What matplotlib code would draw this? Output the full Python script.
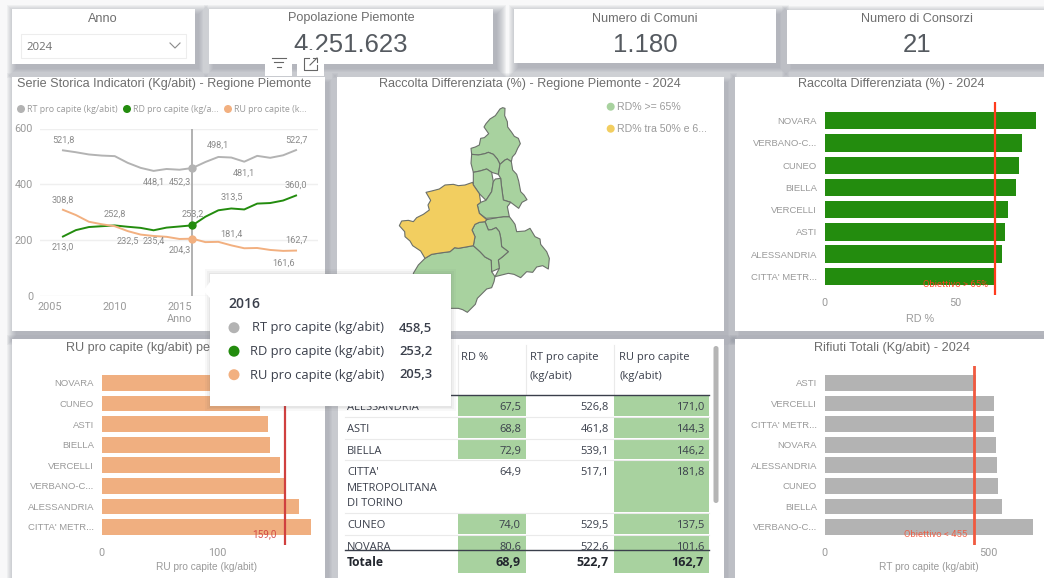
import matplotlib
matplotlib.use("Agg")
import matplotlib.pyplot as plt
from matplotlib.patches import Rectangle, Polygon, FancyBboxPatch, Circle

W, H = 1044, 578
SANS = "Liberation Sans"
UI = "Open Sans"
NUM = "Roboto"

# ---------- data ----------
years = list(range(2006, 2025))
rt = [521.8, 515, 507, 503, 501, 477, 459, 448.1, 455, 452.3, 458.5, 480, 498.1, 496, 481.1, 502, 495, 504, 522.7]
rd = [213.0, 236, 247, 250, 252.8, 248, 244, 235.4, 245, 249, 253.2, 284, 307, 313.5, 310, 331, 333, 342, 360.0]
ru = [308.8, 290, 266, 257, 250, 232.5, 220, 215, 212, 204.3, 205.3, 193, 194, 181.4, 171, 172, 165, 161.6, 162.7]

rd_cat = ["NOVARA", "VERBANO-C...", "CUNEO", "BIELLA", "VERCELLI", "ASTI", "ALESSANDRIA", "CITTA' METR..."]
rd_val = [80.6, 75.2, 74.0, 72.9, 70.1, 68.8, 67.5, 64.9]
ru_cat = ["NOVARA", "CUNEO", "ASTI", "BIELLA", "VERCELLI", "VERBANO-C...", "ALESSANDRIA", "CITTA' METR..."]
ru_val = [101.6, 137.5, 144.3, 146.2, 155.0, 160.0, 171.0, 181.8]
rt_cat = ["ASTI", "VERCELLI", "CITTA' METR...", "NOVARA", "ALESSANDRIA", "CUNEO", "BIELLA", "VERBANO-C..."]
rt_val = [461.8, 516.0, 517.1, 522.6, 526.8, 529.5, 539.1, 636.0]

tab_names = ["ALESSANDRIA", "ASTI", "BIELLA", "CITTA'\nMETROPOLITANA\nDI TORINO", "CUNEO", "NOVARA"]
tab_rd = [67.5, 68.8, 72.9, 64.9, 74.0, 80.6]
tab_rt = [526.8, 461.8, 539.1, 517.1, 529.5, 522.6]
tab_ru = [171.0, 144.3, 146.2, 181.8, 137.5, 101.6]
tot_vals = [68.9, 522.7, 162.7]

map_vco = [(330,42),(338,38),(345,40),(344,62),(352,80),(353,96),(365,112),(373,124),(385,130),(391,146),(383,160),(376,176),(367,186),(364,200),(352,192),(345,195),(330,208),(322,192),(310,178),(295,172),(285,176),(265,180),(245,178),(243,160),(256,156),(268,150),(272,130),(283,128),(296,116),(282,96),(288,86),(300,72),(316,62)]
map_top = [(245,178),(265,180),(285,176),(295,172),(310,178),(322,192),(330,208),(325,238),(305,232),(290,222),(270,228),(250,232),(243,205)]
map_nov = [(330,208),(345,195),(352,192),(364,200),(368,225),(380,238),(386,258),(392,290),(402,300),(411,314),(396,322),(386,340),(362,322),(340,315),(334,270),(332,250),(325,238)]
map_bie = [(250,232),(270,228),(290,222),(305,232),(310,260),(305,290),(288,316),(268,296),(250,270)]
map_ver = [(316,252),(332,250),(334,270),(340,315),(362,322),(352,335),(358,365),(340,365),(320,368),(288,370),(268,355),(262,330),(272,322),(288,316),(305,290),(310,260)]
map_tor = [(248,262),(250,270),(268,296),(272,322),(262,330),(268,355),(290,374),(285,380),(268,382),(255,388),(246,405),(255,425),(250,452),(228,456),(205,460),(194,458),(180,470),(150,474),(125,478),(105,490),(92,468),(68,452),(60,438),(45,425),(44,410),(28,392),(35,378),(55,376),(70,380),(80,368),(100,358),(118,345),(114,330),(122,316),(108,292),(125,288),(148,282),(165,270),(190,268),(205,272),(225,270)]
map_ast = [(285,380),(295,405),(305,404),(318,398),(328,410),(332,428),(335,455),(355,470),(338,485),(325,495),(328,520),(305,530),(304,496),(285,486),(270,470),(250,452),(255,425),(246,405),(255,388),(268,382)]
map_ale = [(290,374),(320,368),(340,365),(358,365),(368,378),(375,388),(380,410),(405,408),(420,400),(435,425),(450,432),(452,448),(470,470),(478,490),(475,522),(458,512),(440,516),(428,532),(410,530),(392,548),(372,538),(355,535),(315,545),(328,520),(325,495),(338,485),(355,470),(335,455),(332,428),(328,410),(318,398),(305,404),(295,405),(285,380)]
map_cun = [(105,490),(125,478),(150,474),(180,470),(194,458),(205,460),(228,456),(250,452),(270,470),(285,486),(304,496),(305,530),(315,545),(312,560),(305,578),(290,582),(280,592),(262,610),(256,628),(232,652),(218,644),(205,640),(150,640),(80,600),(70,535),(85,510)]

GREEN = "#A8D29F"; YELLOW = "#F2CE60"
GREY_T = "#6E6E6E"; GREY_L = "#9A9A9A"; DARK = "#3A3F4B"
C_RT = "#B3B3B3"; C_RD = "#238C0E"; C_RU = "#F2B080"

fig = plt.figure(figsize=(W/100, H/100), dpi=100, facecolor="#F8F8F9")

def pax(x0, y0, x1, y1, z):
    a = fig.add_axes([x0/W, 1-y1/H, (x1-x0)/W, (y1-y0)/H], zorder=z)
    a.patch.set_alpha(0)
    return a

bg = pax(0, 0, W, H, 0)
bg.set_xlim(0, W); bg.set_ylim(H, 0); bg.axis("off")

panels = [(12,9,195,64),(209,9,493,64),(514,9,776,62.5),(787,10,1050,64),
          (12,77,325,331),(337,77,723.7,331),(735,77,1050,331),
          (12,339,325,582),(338,339,723.7,582),(735,339,1050,582)]
for x0, y0, x1, y1 in panels:
    for g in range(9, -1, -1):
        bg.add_patch(Rectangle((x0+4-g, y0+5-g), x1-x0+2*g, y1-y0+2*g, fc="#8A909B", ec="none", alpha=0.085, zorder=1))
for x0, y0, x1, y1 in panels:
    bg.add_patch(Rectangle((x0, y0), x1-x0, y1-y0, fc="white", ec="none", zorder=2))

def T(x, y, s, size=9.1, color=GREY_T, ha="center", fam=SANS, weight="normal", ax=None, z=5):
    (ax or bg).text(x, y+1.5, s, fontsize=size, color=color, ha=ha, va="center", family=fam, fontweight=weight, zorder=z)

# KPI row
T(103, 17, "Anno")
T(351, 17, "Popolazione Piemonte")
T(645, 17, "Numero di Comuni")
T(917, 18, "Numero di Consorzi")
T(351, 43, "4.251.623", 18.5, "#555A60")
T(645, 43, "1.180", 18.5, "#555A60")
T(917, 44, "21", 18.5, "#555A60")
bg.add_patch(Rectangle((20.5, 33.5), 165, 24, fc="white", ec="#EDEDED", lw=0.8, zorder=3))
T(26, 45.5, "2024", 8.2, GREY_T, ha="left", fam=UI)
bg.plot([170, 175, 180], [43, 48, 43], color="#8A8A8A", lw=0.8, zorder=5)

# titles
T(164.5, 83, "Serie Storica Indicatori (Kg/abit) - Regione Piemonte")
T(530, 83, "Raccolta Differenziata (%) - Regione Piemonte - 2024")
T(891.5, 83, "Raccolta Differenziata (%) - 2024")
T(66, 346, "RU pro capite (kg/abit) pe", ha="left")
T(891.5, 346, "Rifiuti Totali (Kg/abit) - 2024")

# line-chart legend
for cx, tx, col, lab in [(21, 27, C_RT, "RT pro capite (kg/abit)"),
                         (127, 133, C_RD, "RD pro capite (kg/a..."),
                         (228, 234, C_RU, "RU pro capite (k...")]:
    bg.add_patch(Circle((cx, 109), 4, fc=col, ec="none", zorder=5))
    T(tx, 108, lab, 6.4, GREY_L, ha="left", fam=UI)

# ---------- line chart ----------
lx0, lx1 = 40, 318
la = pax(lx0, 128.5, lx1, 296, 2)
la.set_xlim(2005 + (lx0-50)/12.95, 2005 + (lx1-50)/12.95)
la.set_ylim(0, 600)
for s in la.spines.values():
    s.set_visible(False)
la.set_yticks([0, 200, 400, 600])
la.set_xticks([2005, 2010, 2015])
la.grid(axis="y", color="#EFEFEF", lw=1)
la.set_axisbelow(True)
la.tick_params(length=0, labelsize=7.8, labelcolor=GREY_L, pad=4)
la.tick_params(axis="y", pad=5)
for t in la.get_xticklabels() + la.get_yticklabels():
    t.set_family(NUM)
la.set_xlabel("Anno", fontsize=7.8, color=GREY_L, family=NUM, labelpad=2)
la.axvline(2016, color="#ABABAB", lw=1.3, zorder=2)
for v, c in [(rt, C_RT), (rd, C_RD), (ru, C_RU)]:
    la.plot(years, v, color=c, lw=1.4, zorder=3)
    la.plot([2016], [v[years.index(2016)]], "o", color=c, ms=5, zorder=4)

def fmt(v):
    return f"{v:.1f}".replace(".", ",")

def lab(series, yr, dy):
    v = series[years.index(yr)]
    la.annotate(fmt(v), (yr, v), xytext=(0, dy), textcoords="offset pixels", ha="center", va="center",
                fontsize=6.6, color="#8A8A8A", family=NUM, zorder=6)

for s, yr, dy in [(rt,2006,10),(rt,2013,-11),(rt,2015,-12),(rt,2018,12),(rt,2020,-11),(rt,2024,10),
                  (rd,2006,-11),(rd,2010,11),(rd,2013,-11),(rd,2016,11),(rd,2019,11),(rd,2024,10),
                  (ru,2006,10),(ru,2011,-10),(ru,2015,-11),(ru,2019,11),(ru,2023,-12),(ru,2024,10)]:
    lab(s, yr, dy)

# ---------- horizontal bars ----------
def hbars(box, pxunit, cy0, step, cats, vals, col, barh, ticks, target, tcol, tlabel, tlx, tly, tsize, lw):
    xa, ya, xb, yb = box
    a = pax(xa, ya, xb, yb, 2)
    a.set_xlim(0, (xb-xa)/pxunit)
    a.set_ylim((yb-cy0)/step, (ya-cy0)/step)
    for s in a.spines.values():
        s.set_visible(False)
    a.barh(range(len(cats)), vals, height=barh/step, color=col, zorder=2)
    a.set_yticks(range(len(cats)), cats)
    a.set_xticks(ticks)
    a.tick_params(length=0, labelsize=6.8, labelcolor=GREY_L)
    a.tick_params(axis="y", pad=5.5)
    a.tick_params(axis="x", pad=2.5)
    for t in a.get_yticklabels():
        t.set_family(SANS)
    for t in a.get_xticklabels():
        t.set_family(NUM); t.set_fontsize(7.8)
    a.axvline(target, color=tcol, lw=lw, zorder=3)
    a.text(tlx, tly, tlabel, fontsize=tsize, color=tcol, ha="right", va="center", family=NUM, zorder=4, alpha=0.9)
    return a

hbars((824.7, 102, 1044, 295), 2.62, 120.7, 22.23, rd_cat, rd_val, C_RD, 17.3, [0, 50],
      65, "#FF3B1D", "Obiettivo > 65%", 62.5, 7.35, 6.8, 1.6)
hbars((101.7, 365, 325, 545), 1.153, 383, 20.57, ru_cat, ru_val, "#F0AF80", 15.7, [0, 100],
      159, "#D0403F", "159,0", 152, 7.35, 7.2, 1.6)
hbars((824.7, 365.7, 1044, 545), 0.328, 383, 20.57, rt_cat, rt_val, C_RT, 15.7, [0, 500],
      455, "#F05A40", "Obiettivo < 455", 434, 7.35, 6.8, 2.0)
T(920, 318, "RD %", 7.8, GREY_L)
T(206.5, 565, "RU pro capite (kg/abit)", 7.3, GREY_L)
T(929, 565, "RT pro capite (kg/abit)", 7.3, GREY_L)

# ---------- map ----------
ma = pax(390, 95, 560, 330, 2)
ma.set_xlim(0, 510); ma.set_ylim(705, 0); ma.axis("off")
for poly, col in [(map_cun, GREEN), (map_ale, GREEN), (map_ast, GREEN), (map_vco, GREEN), (map_top, GREEN),
                  (map_nov, GREEN), (map_bie, GREEN), (map_ver, GREEN), (map_tor, YELLOW)]:
    ma.add_patch(Polygon(poly, closed=True, fc=col, ec="#6B706A", lw=0.8, joinstyle="round"))
bg.add_patch(Circle((610.7, 106.7), 4, fc=GREEN, ec="none", zorder=5))
bg.add_patch(Circle((610.7, 128.7), 4, fc=YELLOW, ec="none", zorder=5))
T(617, 105, "RD% >= 65%", 7.6, GREY_L, ha="left")
T(617, 127, "RD% tra 50% e 6...", 7.6, GREY_L, ha="left")

# ---------- table ----------
ta = pax(338, 339, 724, 578, 3)
ta.set_xlim(338, 724); ta.set_ylim(578, 339); ta.axis("off")
row_edges = [395.5, 417, 439, 460, 512.7, 535, 557]
col_x = [(457.7, 526), (526, 614), (614, 709)]
right_x = [521, 609, 704]
clip = Rectangle((338, 395.5), 386, 154.5, transform=ta.transData)
def clipped(artist):
    artist.set_clip_path(clip)
    artist.set_clip_on(True)
for i, name in enumerate(tab_names):
    y0, y1 = row_edges[i], row_edges[i+1]
    cells = [(tab_rd[i], tab_rd[i] >= 65), (tab_rt[i], False), (tab_ru[i], True)]
    for (x0, x1), rx, (v, green) in zip(col_x, right_x, cells):
        if green:
            clipped(ta.add_patch(Rectangle((x0, y0+0.5), x1-x0, y1-y0-1, fc=GREEN, ec="none")))
        clipped(ta.text(rx, y0 + 12.5, fmt(v), fontsize=8, color=DARK, ha="right", va="center", family=UI))
    clipped(ta.plot([345, 709], [y1, y1], color="#EAEAEA", lw=0.8)[0])
    for j, line in enumerate(name.split("\n")):
        clipped(ta.text(347, y0 + 12.5 + j*15.6, line, fontsize=8, color=DARK, ha="left", va="center", family=UI))
ta.plot([345, 709], [395.3, 395.3], color=DARK, lw=1, zorder=4)
ta.plot([345, 709], [550, 550], color=DARK, lw=1, zorder=4)
for x in [457.7, 526, 614]:
    ta.plot([x, x], [345, 395], color="#EAEAEA", lw=0.8)
T(461, 356, "RD %", 8, DARK, ha="left", fam=UI, ax=ta)
for x, l in [(530, "RT pro capite"), (619, "RU pro capite")]:
    T(x, 356, l, 8, DARK, ha="left", fam=UI, ax=ta)
    T(x, 375, "(kg/abit)", 8, DARK, ha="left", fam=UI, ax=ta)
ta.add_patch(Rectangle((457.7, 550.5), 68.3, 22.5, fc=GREEN, ec="none"))
ta.add_patch(Rectangle((614, 550.5), 95, 22.5, fc=GREEN, ec="none"))
T(347, 561, "Totale", 8.7, "#22262E", ha="left", fam=UI, weight="bold", ax=ta)
for rx, v in zip(right_x, tot_vals):
    T(rx, 561, fmt(v), 9, "#22262E", ha="right", fam=UI, weight="bold", ax=ta)
ta.add_patch(FancyBboxPatch((713.5, 346), 5, 157, boxstyle="round,pad=0,rounding_size=2.5", fc="#B5B5B5", ec="none"))

# ---------- overlay: icons and tooltip ----------
top = pax(0, 0, W, H, 10)
top.set_xlim(0, W); top.set_ylim(H, 0); top.axis("off")
top.add_patch(Rectangle((265, 50), 27, 26, fc="white", ec="none"))
top.add_patch(Rectangle((296.7, 50), 27.3, 26, fc="white", ec="none"))
for x0, x1, y in [(271.5, 285.5, 57.5), (274, 283, 62), (276.5, 280.5, 66.5)]:
    top.plot([x0, x1], [y, y], color="#666666", lw=0.8)
top.plot([309, 304, 304, 317, 317], [58, 58, 70, 70, 65], color="#666666", lw=0.8)
top.plot([310, 317], [65, 58], color="#666666", lw=0.8)
top.plot([313, 317, 317], [58, 58, 62], color="#666666", lw=0.8)

for g, al in [(5, .04), (3, .05), (1.5, .06)]:
    top.add_patch(Rectangle((210-g, 274-g), 240.7+2*g, 132+2*g, fc="#555555", ec="none", alpha=al, zorder=1))
top.add_patch(Polygon([(210, 282), (203.3, 290.7), (210, 298)], fc="white", ec="none", zorder=2))
top.add_patch(Rectangle((210, 274), 240.7, 132, fc="white", ec="none", zorder=2))
T(228, 302, "2016", 10, DARK, ha="left", fam=UI, weight="semibold", ax=top)
for y, lab_, val, col in [(328, "RT pro capite (kg/abit)", 458.5, C_RT),
                          (351.5, "RD pro capite (kg/abit)", 253.2, C_RD),
                          (375, "RU pro capite (kg/abit)", 205.3, C_RU)]:
    top.add_patch(Circle((234, y-0.3), 5.5, fc=col, ec="none", zorder=3))
    T(384.5, y-1.5, lab_, 9.3, DARK, ha="right", fam=UI, ax=top)
    T(432, y-1.5, fmt(val), 9.4, DARK, ha="right", fam=UI, weight="semibold", ax=top)

fig.savefig("out.png", dpi=100, facecolor=fig.get_facecolor())
